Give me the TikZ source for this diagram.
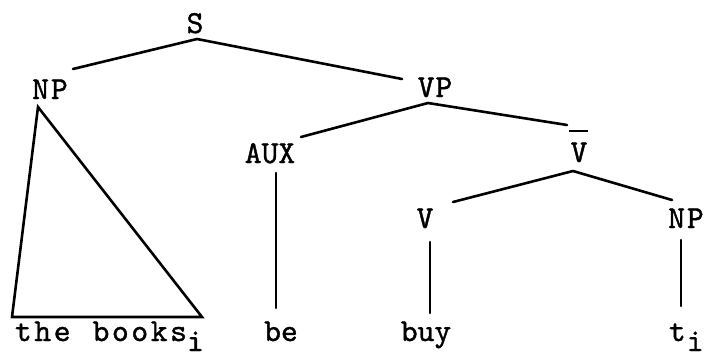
\documentclass[tikz,border=0pt]{standalone}
\usepackage{fontspec}
\newfontfamily\tw{lmmono10-regular.otf}[FakeBold=1.2]
\usetikzlibrary{calc}
\newcommand\lk{\kern2.6pt}
\begin{document}
\begin{tikzpicture}[x=1pt,y=-1pt,
  lbl/.style={font=\tw\fontsize{32}{36}\selectfont, inner sep=0pt, outer sep=0pt, anchor=base},
  edge/.style={line width=2.6pt, line cap=round}]
\useasboundingbox (0,0) rectangle (711,356);
% labels
\node[lbl] (S)   at (195,33)  {S};
\node[lbl] (NPa) at (50,99)   {N\kern2pt P};
\node[lbl] (VP)  at (435,97)  {V\kern1pt P};
\node[lbl] (AUX) at (270,163) {AUX};
\node[lbl] (Vb)  at (579,162) {V};
\node[lbl] (V)   at (425,228) {V};
\node[lbl] (NPb) at (686,228) {N\kern2pt P};
\node[lbl, anchor=base west] (books) at (15,341)
  {t\lk h\lk e\lk\ \lk b\lk o\lk o\lk k\lk s\raisebox{-10pt}{i}};
\node[lbl] (be)  at (281,341) {be};
\node[lbl] (buy) at (426,341) {buy};
\node[lbl, anchor=base west] (t) at (669,341) {t\kern1pt\raisebox{-10pt}{i}};
% bar over V
\draw[line width=2.2pt] ($(Vb.base)+(-10,-31)$) -- ($(Vb.base)+(9,-31)$);
% branches
\draw[edge] ($(S.base)+(2,6)$) -- ($(NPa.base)+(23,-30)$);
\draw[edge] ($(S.base)+(2,6)$) -- ($(VP.base)+(-33,-18)$);
\draw[edge] ($(VP.base)+(-7,6)$) -- ($(AUX.base)+(31,-26)$);
\draw[edge] ($(VP.base)+(-7,6)$) -- ($(Vb.base)+(-12,-37)$);
\draw[edge] ($(Vb.base)+(-6,9)$) -- ($(V.base)+(28,-26)$);
\draw[edge] ($(Vb.base)+(-6,9)$) -- ($(NPb.base)+(-14,-28)$);
\draw[edge] ($(AUX.base)+(6,10)$) -- ($(be.base)+(-5,-33)$);
\draw[edge] ($(V.base)+(5,14)$) -- ($(buy.base)+(4,-28)$);
\draw[edge] ($(NPb.base)+(-5,12)$) -- ($(t.base west)+(12,-35)$);
% triangle
\draw[edge, line join=miter] ($(NPa.base)+(-12,8)$) -- ($(books.base west)+(-3,-24)$)
  -- ($(books.base west)+(187,-24)$) -- cycle;
\end{tikzpicture}
\end{document}
